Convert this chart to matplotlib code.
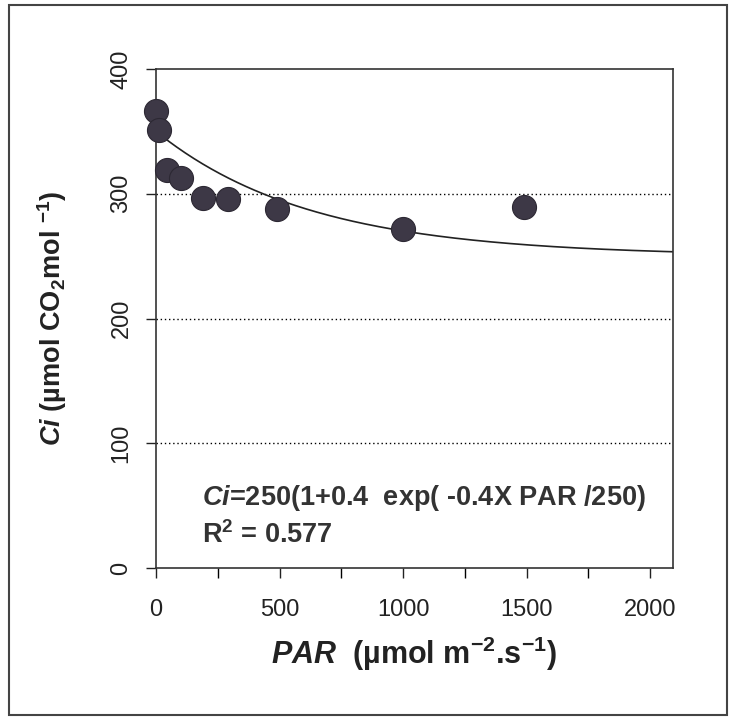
import numpy as np
import matplotlib.pyplot as plt
from matplotlib.patches import Rectangle

plt.rcParams['font.family'] = ['Liberation Sans', 'DejaVu Sans']
plt.rcParams['mathtext.fontset'] = 'custom'
plt.rcParams['mathtext.rm'] = 'Liberation Sans:bold'
plt.rcParams['mathtext.bf'] = 'Liberation Sans:bold'
plt.rcParams['mathtext.it'] = 'Liberation Sans:bold:italic'
plt.rcParams['mathtext.default'] = 'bf'

# Datos observados: PAR vs Ci
par = [0, 12, 45, 100, 190, 290, 490, 1000, 1490]
ci = [366, 351, 319, 313, 297, 296, 288, 272, 289]

# Parámetros del ajuste Ci = a(1 + b exp(-c PAR / a))
a_fit = 250
b_fit = 0.4
c_fit = 0.4
r2 = 0.577

par_fit = np.linspace(0, 2090, 300)
ci_fit = a_fit * (1 + b_fit * np.exp(-c_fit * par_fit / a_fit))

fig = plt.figure(figsize=(7.31, 7.19), dpi=100)
ax = fig.add_axes([0.2134, 0.210, 0.7066, 0.694])

for yg in [100, 200, 300]:
    ax.axhline(yg, color='black', lw=1.0, ls=(0, (1, 2)), zorder=1)

ax.plot(par_fit, ci_fit, color='#222222', lw=1.2, zorder=2)
ax.scatter(par, ci, s=300, color='#3d3846', edgecolors='#2c2833', linewidths=0.8,
           zorder=3, clip_on=False)

ax.set_xlim(0, 2090)
ax.set_ylim(0, 400)
ax.set_xticks([0, 500, 1000, 1500, 2000])
ax.set_xticks([250, 750, 1250, 1750], minor=True)
ax.set_yticks([0, 100, 200, 300, 400])
ax.tick_params(axis='both', direction='out', length=7, width=1.0, labelsize=17, colors='#222222')
ax.tick_params(axis='x', which='minor', direction='out', length=7, width=1.0)
ax.tick_params(axis='x', pad=15)
ax.tick_params(axis='y', pad=10)
for lbl in ax.get_yticklabels():
    lbl.set_rotation(90)
    lbl.set_va('center')

for sp in ax.spines.values():
    sp.set_linewidth(1.2)
    sp.set_color('#333333')

ax.set_xlabel(r'$\it{PAR}$  (µmol m$^{-2}$.s$^{-1}$)', fontsize=22, fontweight='bold',
              labelpad=10, color='#222222')
ax.set_ylabel(r'$\it{Ci}$ (µmol CO$_{2}$mol $^{-1}$)', fontsize=19.5, fontweight='bold',
              labelpad=30, color='#222222')

ax.text(0.09, 0.14, r'$\it{Ci}$' + '=%d(1+%.1f  exp( -%.1fX PAR /%d)' % (a_fit, b_fit, c_fit, a_fit),
        transform=ax.transAxes, fontsize=19.5, fontweight='bold', color='#333333', va='center')
ax.text(0.09, 0.066, r'R$^{2}$ = %.3f' % r2,
        transform=ax.transAxes, fontsize=19.5, fontweight='bold', color='#333333', va='center')

# Marco exterior
fig.patches.append(Rectangle((0.012, 0.005), 0.983, 0.988, transform=fig.transFigure,
                             fill=False, edgecolor='#444444', lw=1.5))

fig.savefig('out.png', dpi=100)
